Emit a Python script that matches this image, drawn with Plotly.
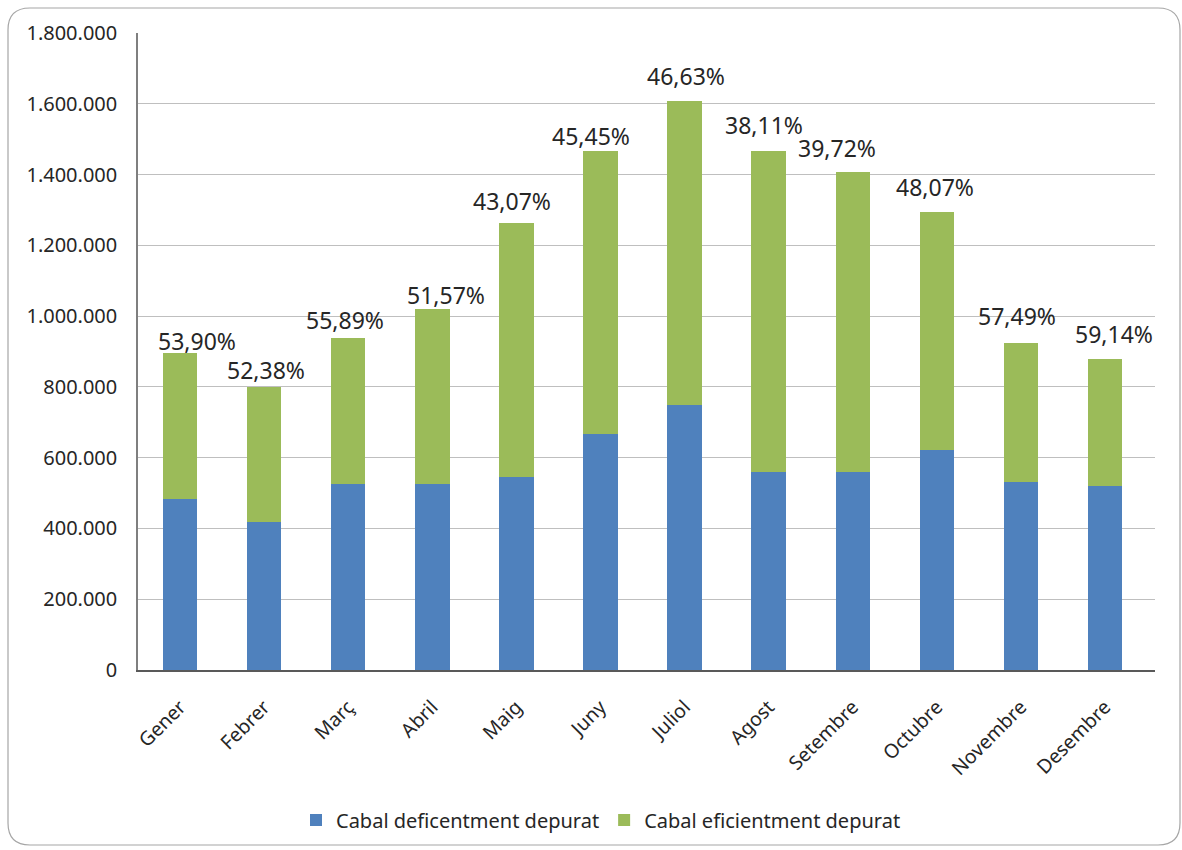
import plotly.graph_objects as go

months = ["Gener", "Febrer", "Març", "Abril", "Maig", "Juny", "Juliol",
          "Agost", "Setembre", "Octubre", "Novembre", "Desembre"]
deficient = [483000, 419000, 525000, 526000, 544000, 667000, 750000,
             559000, 559000, 622000, 531000, 520000]
efficient = [413000, 381000, 413000, 494000, 719000, 800000, 858000,
             908000, 848000, 672000, 393000, 359000]
pct_labels = ["53,90%", "52,38%", "55,89%", "51,57%", "43,07%", "45,45%", "46,63%",
              "38,11%", "39,72%", "48,07%", "57,49%", "59,14%"]
y_ticks = [0, 200000, 400000, 600000, 800000, 1000000, 1200000, 1400000, 1600000, 1800000]
y_tick_text = ["0", "200.000", "400.000", "600.000", "800.000", "1.000.000",
               "1.200.000", "1.400.000", "1.600.000", "1.800.000"]

totals = [a + b for a, b in zip(deficient, efficient)]

FONT = "Noto Sans"
TXT = "#262626"
W, H = 1182, 850
L, R, T, B = 138, 27, 33, 180

# label placement offsets (px) relative to the top of each stacked bar
label_dx = [17, 2, -3, 14, -4, -9, 1, -5, -16, -2, -4, 9]
label_dy = [12, 17, 18, 14, 22, 15, 25, 26, 24, 25, 27, 25]

fig = go.Figure()
fig.add_trace(go.Bar(x=months, y=deficient, name="Cabal deficentment depurat",
                     marker=dict(color="#4F81BD", line=dict(width=0))))
fig.add_trace(go.Bar(x=months, y=efficient, name="Cabal eficientment depurat",
                     marker=dict(color="#9BBB59", line=dict(width=0))))

for m, t, lab, dx, dy in zip(months, totals, pct_labels, label_dx, label_dy):
    fig.add_annotation(x=m, y=t, text=lab, showarrow=False, yanchor="middle",
                       xanchor="center", xshift=dx, yshift=dy,
                       font=dict(family=FONT, size=23, color=TXT))

# rounded outer border (paper coords)
pw, ph = W - L - R, H - T - B
def px(x):
    return (x - L) / pw
def py(y):
    return (H - B - y) / ph
x0, x1, y0, y1, r = 8, 1180, 8, 845, 22
path = (f"M {px(x0+r)},{py(y0)} L {px(x1-r)},{py(y0)} "
        f"Q {px(x1)},{py(y0)} {px(x1)},{py(y0+r)} "
        f"L {px(x1)},{py(y1-r)} Q {px(x1)},{py(y1)} {px(x1-r)},{py(y1)} "
        f"L {px(x0+r)},{py(y1)} Q {px(x0)},{py(y1)} {px(x0)},{py(y1-r)} "
        f"L {px(x0)},{py(y0+r)} Q {px(x0)},{py(y0)} {px(x0+r)},{py(y0)} Z")
fig.add_shape(type="path", path=path, xref="paper", yref="paper",
              line=dict(color="#a6a6a6", width=1.2), layer="below")

fig.update_layout(
    width=W, height=H, autosize=False,
    margin=dict(l=L, r=R, t=T, b=B, autoexpand=False),
    barmode="stack", bargap=0.59,
    plot_bgcolor="white", paper_bgcolor="white",
    font=dict(family=FONT, size=20, color=TXT),
    showlegend=True,
    legend=dict(orientation="h", x=px(601), xanchor="center",
                y=py(820), yanchor="middle", itemwidth=30,
                font=dict(family=FONT, size=20, color=TXT),
                traceorder="normal"),
    xaxis=dict(showline=True, linecolor="#595959", linewidth=2, tickangle=-45,
               tickfont=dict(family=FONT, size=19.5, color=TXT), ticks="",
               ticklabelstandoff=16,
               showgrid=False, automargin=False),
    yaxis=dict(range=[0, 1800000], tickvals=y_ticks, ticktext=y_tick_text,
               showline=True, linecolor="#7f7f7f", linewidth=1.5,
               gridcolor="#bfbfbf", gridwidth=1, ticks="", zeroline=False,
               automargin=False, ticklabelstandoff=15,
               tickfont=dict(family=FONT, size=20, color=TXT)),
)

fig.write_html("out.html")
